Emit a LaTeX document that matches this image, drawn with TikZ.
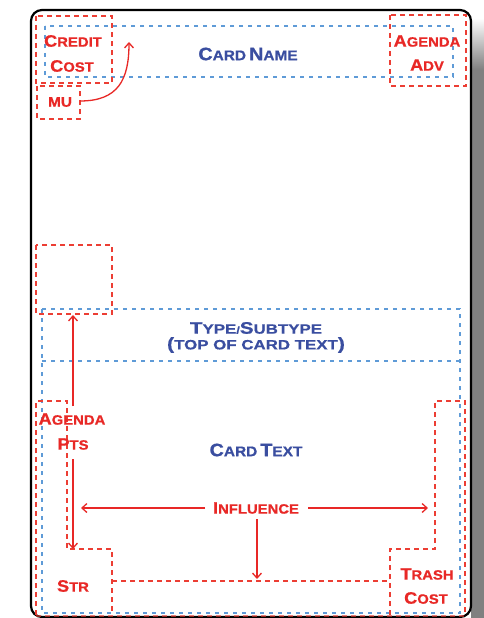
\documentclass[tikz,border=0pt]{standalone}
\usepackage{fontspec}
\usetikzlibrary{arrows.meta}
\newfontfamily\cardfont[FakeStretch=1.1, FakeBold=0.8]{Liberation Sans Bold}
\newfontfamily\widefont[FakeStretch=1.25, FakeBold=0.8]{Liberation Sans Bold}
\definecolor{cred}{RGB}{232,40,38}
\definecolor{cdred}{RGB}{236,62,52}
\definecolor{cblue}{RGB}{58,78,160}
\definecolor{cdblue}{RGB}{95,155,215}
\newcommand\fsc[2]{{\fontsize{16.5}{16}\selectfont #1}{\fontsize{13.5}{12}\selectfont #2}}
\newcommand\fscb[2]{{\fontsize{18}{18}\selectfont #1}{\fontsize{14}{13}\selectfont #2}}
\tikzset{
  redbox/.style={draw=cdred, line width=1.6pt, dash pattern=on 5pt off 4pt},
  bluebox/.style={draw=cdblue, line width=1.6pt, dash pattern=on 4pt off 5pt},
  redtxt/.style={text=cred, font=\cardfont, inner sep=0pt, align=center},
  bluetxt/.style={text=cblue, font=\cardfont, inner sep=0pt, align=center},
  redarrow/.style={draw=cred, line width=1.3pt, -{Straight Barb[length=5pt,width=9pt,line width=1.3pt]}},
}
\begin{document}
\begin{tikzpicture}[x=1pt,y=-1pt]
\useasboundingbox (0,0) rectangle (484,618);
% shadow
\shade[top color=white, bottom color=gray] (471,18) rectangle (484,70);
\fill[gray] (471,70) rectangle (484,618);
% card
\draw[fill=white, line width=2.2pt, rounded corners=11pt] (31,10) rectangle (471,617);
% blue boxes
\draw[bluebox] (45,26) rectangle (453,77);
\draw[bluebox] (42,309) rectangle (460,613);
\draw[bluebox] (42,361) -- (460,361);
% red boxes
\draw[redbox] (36,16) rectangle (112,83);
\draw[redbox] (37,86) rectangle (80,119);
\draw[redbox] (390,15) rectangle (466,86);
\draw[redbox] (36,245) rectangle (112,314);
\draw[redbox] (36,615) -- (36,401) -- (67,401) -- (67,549) -- (112,549) -- (112,615);
\draw[redbox] (112,581) -- (390,581);
\draw[redbox] (390,615) -- (390,549) -- (435,549) -- (435,401) -- (465,401) -- (465,615);
\draw[redbox, draw opacity=0.6] (36,616) -- (465,616);
% texts
\node[bluetxt] (cardname) at (248,54) {\fscb{C}{ARD} \fscb{N}{AME}};
\node[redtxt] (credit) at (73,41) {\fsc{C}{REDIT}};
\node[redtxt] (cost) at (72,66) {\fsc{C}{OST}};
\node[redtxt] (mu) at (60,102) {\fontsize{14}{14}\selectfont MU};
\node[redtxt] (agenda) at (427,41) {\fsc{A}{GENDA}};
\node[redtxt] (adv) at (427,65) {\fsc{A}{DV}};
\node[bluetxt, font=\widefont] (type) at (256,328) {\fsc{T}{YPE}/\fsc{S}{UBTYPE}};
\node[bluetxt, font=\widefont] (topof) at (256,345) {{\fontsize{17}{17}\selectfont (}{\fontsize{13.5}{12}\selectfont TOP OF CARD TEXT}{\fontsize{17}{17}\selectfont )}};
\node[bluetxt] (cardtext) at (256,450) {\fscb{C}{ARD} \fscb{T}{EXT}};
\node[redtxt] (agpts) at (72,419) {\fsc{A}{GENDA}};
\node[redtxt] (pts) at (73,444) {\fsc{P}{TS}};
\node[redtxt] (influence) at (256,508) {\fsc{I}{NFLUENCE}};
\node[redtxt] (str) at (73,586) {\fsc{S}{TR}};
\node[redtxt] (trash) at (427,574) {\fsc{T}{RASH}};
\node[redtxt] (tcost) at (426,598) {\fsc{C}{OST}};
% arrow endpoints
\coordinate (muout) at (80,101);
\coordinate (creditin) at (129,42);
\coordinate (ptsup0) at (73,406);
\coordinate (ptsup1) at (73,315);
\coordinate (ptsdn0) at (73,459);
\coordinate (ptsdn1) at (73,549);
\coordinate (infl0) at (205,508);
\coordinate (infl1) at (81,508);
\coordinate (infr0) at (308,508);
\coordinate (infr1) at (428,508);
\coordinate (infd0) at (257,519);
\coordinate (infd1) at (257,579);
% arrows
\draw[redarrow] (muout) .. controls (118,101) and (129,80) .. (creditin);
\draw[redarrow] (ptsup0) -- (ptsup1);
\draw[redarrow] (ptsdn0) -- (ptsdn1);
\draw[redarrow] (infl0) -- (infl1);
\draw[redarrow] (infr0) -- (infr1);
\draw[redarrow] (infd0) -- (infd1);
\end{tikzpicture}
\end{document}
